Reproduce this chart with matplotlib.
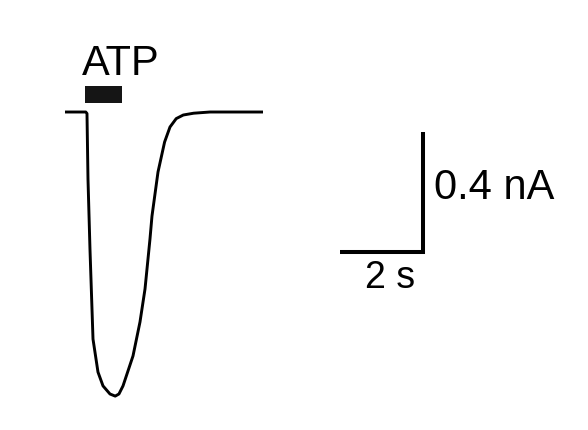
import matplotlib
matplotlib.use("Agg")
import matplotlib.pyplot as plt
from matplotlib.patches import Rectangle

# Current trace (time in s, current in nA)
time_s = [0.0, 0.50, 0.53, 0.554, 0.602, 0.675, 0.795, 0.916, 1.084, 1.21, 1.30,
          1.398, 1.639, 1.807, 1.928, 2.048, 2.096, 2.241, 2.40, 2.53, 2.68,
          2.85, 3.10, 3.494, 4.10, 4.771]
current_nA = [0.0, 0.0, -0.005, -0.223, -0.457, -0.757, -0.867, -0.913, -0.94, -0.947,
              -0.94, -0.913, -0.813, -0.70, -0.59, -0.423, -0.347, -0.20, -0.10,
              -0.05, -0.022, -0.01, -0.004, 0.0, 0.0, 0.0]

# ATP application bar (start, end time in s)
atp_window = [0.48, 1.37]
atp_level = [0.03, 0.087]
atp_label = "ATP"

# Scale bars
scale_time_s = 2.0
scale_current_nA = 0.4
scale_origin = [8.627, -0.467]   # corner of the L (time, current)
scale_time_label = "2 s"
scale_current_label = "0.4 nA"

plt.rcParams['font.family'] = ['Liberation Sans', 'DejaVu Sans']

fig = plt.figure(figsize=(5.88, 4.31), dpi=100)
ax = fig.add_axes([0, 0, 1, 1])
ax.set_xlim(-1.566, 12.602)
ax.set_ylim(-1.06, 0.3767)
ax.axis('off')

ax.plot(time_s, current_nA, color='black', lw=2.1, solid_joinstyle='round',
        solid_capstyle='butt')

ax.add_patch(Rectangle((atp_window[0], atp_level[0]), atp_window[1] - atp_window[0],
                       atp_level[1] - atp_level[0], facecolor='#151515',
                       edgecolor='none'))
ax.text(0.41, 0.127, atp_label, ha='left', va='baseline', fontsize=30,
        color='black')

x0, y0 = scale_origin
ax.plot([x0 - scale_time_s, x0, x0], [y0, y0, y0 + scale_current_nA],
        color='black', lw=2.9, solid_joinstyle='miter', solid_capstyle='butt')
ax.text(7.83, -0.583, scale_time_label, ha='center', va='baseline',
        fontsize=27, color='black')
ax.text(8.892, -0.287, scale_current_label, ha='left', va='baseline',
        fontsize=30, color='black')

fig.savefig("out.png", dpi=100, facecolor='white')
